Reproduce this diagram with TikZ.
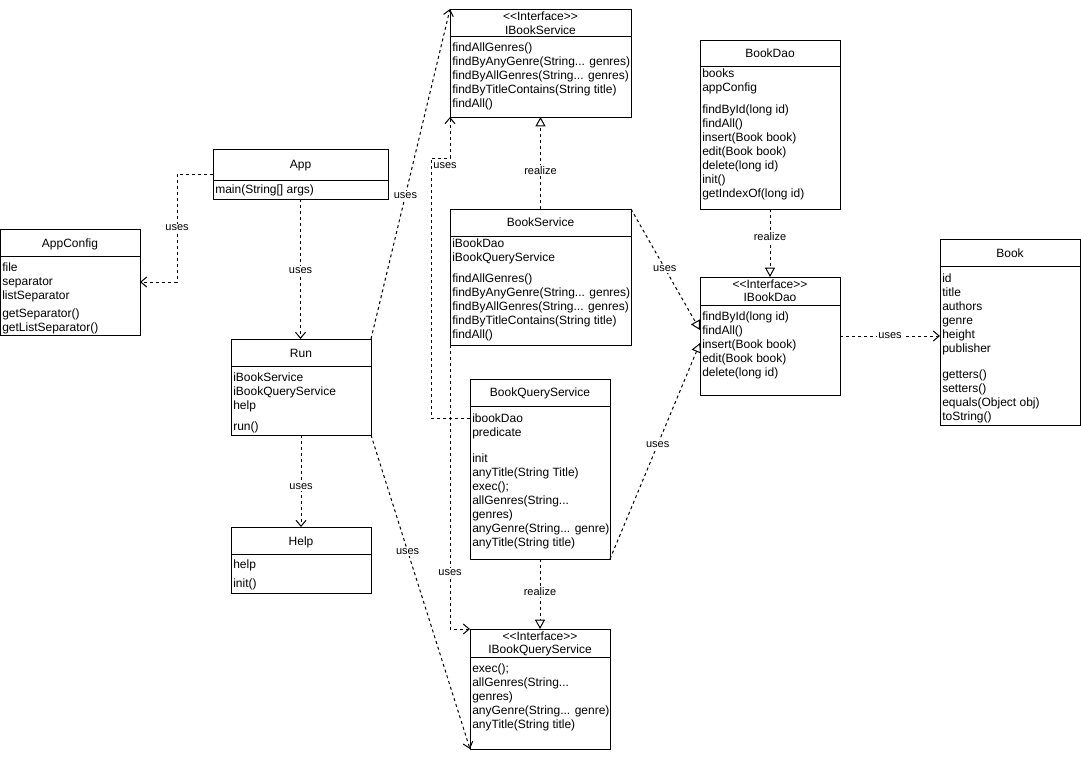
\documentclass[tikz,border=0pt]{standalone}
\usepackage{fontspec}
\newfontfamily\uf{Liberation Sans}
\usetikzlibrary{arrows.meta,calc}
\newcommand\R{\rule{0pt}{7pt}}
\newcommand\ubox[5]{\node[box, minimum width={#4*0.75pt}, minimum height={#5*0.75pt}] (#1) at (#2,#3) {};}
\newcommand\udiv[3]{\draw[divline] (#1,#2) -- ++(#3,0);}
\tikzset{
 box/.style={draw, line width=0.75pt, fill=white, anchor=north west, inner sep=0pt, outer sep=0pt},
 hd/.style={font=\uf\fontsize{9}{10.5}\selectfont, inner sep=0pt, anchor=base},
 mem/.style={font=\uf\fontsize{9}{10.5}\selectfont, inner sep=0pt, anchor=north west, align=left},
 divline/.style={line width=0.75pt},
 dep/.style={line width=0.75pt, dash pattern=on 2.25pt off 2.25pt, -{Straight Barb[length=4.5pt,width=7.5pt]}},
 real/.style={line width=0.75pt, dash pattern=on 2.25pt off 2.25pt, -{Triangle[open,length=7pt,width=7.5pt]}},
 lab/.style={font=\uf\fontsize{8.25}{9}\selectfont, fill=white, inner sep=1pt},
}
\begin{document}
\begin{tikzpicture}[x=0.75pt,y=-0.75pt]
\useasboundingbox (0,0) rectangle (1081,760);

% ---------- boxes ----------
\ubox{ibs}{450}{9}{181}{108}
\ubox{bd}{700}{40}{140}{169}
\ubox{app}{213}{149}{175}{50}
\ubox{ac}{0.5}{229}{139.5}{106}
\ubox{bs}{450}{209}{181}{136}
\ubox{ibd}{700}{277}{140}{118}
\ubox{book}{940}{239}{140}{186}
\ubox{run}{231}{339}{140}{96}
\ubox{help}{231}{527}{140}{66}
\ubox{bqs}{470}{379}{140}{180}
\ubox{ibqs}{470}{629}{140}{120}

% ---------- dividers ----------
\udiv{450}{36}{181}
\udiv{700}{66}{140}
\udiv{213}{180}{175}
\udiv{0.5}{256}{139.5}
\udiv{450}{236}{181}
\udiv{700}{305}{140}
\udiv{940}{266}{140}
\udiv{231}{366}{140}
\udiv{231}{554}{140}
\udiv{470}{406}{140}
\udiv{470}{657}{140}

% ---------- headers ----------
\node[hd] (ibs-s) at (540.5,20.3) {<\kern0pt<Interface>\kern0pt>};
\node[hd] (ibs-t) at (540.5,34.3) {IBookService};
\node[hd] (bd-t) at (770,57.3) {BookDao};
\node[hd] (app-t) at (300.5,168.3) {App};
\node[hd] (ac-t) at (70,247.3) {AppConfig};
\node[hd] (bs-t) at (540.5,226.3) {BookService};
\node[hd] (ibd-s) at (770,288.3) {<\kern0pt<Interface>\kern0pt>};
\node[hd] (ibd-t) at (770,301.3) {IBookDao};
\node[hd] (book-t) at (1010,257.3) {Book};
\node[hd] (run-t) at (301,357.3) {Run};
\node[hd] (help-t) at (301,545.3) {Help};
\node[hd] (bqs-t) at (540,396.3) {BookQueryService};
\node[hd] (ibqs-s) at (540,640.3) {<\kern0pt<Interface>\kern0pt>};
\node[hd] (ibqs-t) at (540,653.3) {IBookQueryService};

% ---------- members ----------
\node[mem] (ibs-m) at (452,42) {\R findAllGenres()\\findByAnyGenre(String... genres)\\findByAllGenres(String... genres)\\findByTitleContains(String title)\\findAll()};
\node[mem] (bd-f) at (702,68) {\R books\\appConfig};
\node[mem] (bd-m) at (702,104) {\R findById(long id)\\findAll()\\insert(Book book)\\edit(Book book)\\delete(long id)\\init()\\getIndexOf(long id)};
\node[mem] (app-m) at (215,184) {\R main(String[] args)};
\node[mem] (ac-f) at (2,262) {\R file\\separator\\listSeparator};
\node[mem] (ac-m) at (2,308) {\R getSeparator()\\getListSeparator()};
\node[mem] (bs-f) at (452,238) {\R iBookDao\\iBookQueryService};
\node[mem] (bs-m) at (452,273) {\R findAllGenres()\\findByAnyGenre(String... genres)\\findByAllGenres(String... genres)\\findByTitleContains(String title)\\findAll()};
\node[mem] (ibd-m) at (702,311) {\R findById(long id)\\findAll()\\insert(Book book)\\edit(Book book)\\delete(long id)};
\node[mem] (book-f) at (942,273) {\R id\\title\\authors\\genre\\height\\publisher};
\node[mem] (book-m) at (942,369) {\R getters()\\setters()\\equals(Object obj)\\toString()};
\node[mem] (run-f) at (233,372) {\R iBookService\\iBookQueryService\\help};
\node[mem] (run-m) at (233,421) {\R run()};
\node[mem] (help-f) at (233,559) {\R help};
\node[mem] (help-m) at (233,578) {\R init()};
\node[mem] (bqs-f) at (472,413) {\R ibookDao\\predicate};
\node[mem] (bqs-m) at (472,453) {\R init\\anyTitle(String Title)\\exec();\\allGenres(String...\\genres)\\anyGenre(String... genre)\\anyTitle(String title)};
\node[mem] (ibqs-m) at (472,663) {\R exec();\\allGenres(String...\\genres)\\anyGenre(String... genre)\\anyTitle(String title)};

% ---------- helper coordinates ----------
\coordinate (bqsdao) at ($(bqs.north west)+(0,39)$);
\coordinate (ibdin1) at ($(ibd.north west)+(0,53)$);
\coordinate (ibdin2) at ($(ibd.north west)+(0,66)$);

% ---------- connectors ----------
\draw[dep] (app.west) -- ++(-36,0) |- node[lab,pos=0.25] {uses} (ac.east);
\draw[dep] (app.south) -- node[lab,pos=0.51] {uses} (app.south |- run.north);
\draw[dep] (run.north east) -- node[lab,pos=0.436] {uses} (ibs.north west);
\draw[dep] (run.south) -- node[lab,pos=0.56] {uses} (help.north);
\draw[dep] (run.south east) -- node[lab,pos=0.37] {uses} (ibqs.south west);
\draw[dep] (bqsdao) -- ++(-39,0) -- ++(0,-260) -| (ibs.south west);
\node[lab] (lbl-bqs-ibs) at (445,166) {uses};
\draw[dep] (bs.south west) |- node[lab,pos=0.40] {uses} (ibqs.north west);
\draw[real] (bs.north) -- node[lab,pos=0.42] {realize} (ibs.south);
\draw[real] (bd.south) -- node[lab,pos=0.4] {realize} (ibd.north);
\draw[real] (bs.north east) -- node[lab,pos=0.49] {uses} (ibdin1);
\draw[real] (bqs.south east) -- node[lab,pos=0.53] {uses} (ibdin2);
\draw[real] (bqs.south) -- node[lab,pos=0.46] {realize} (ibqs.north);
\draw[dep] (ibd.east) -- node[lab] {uses} (ibd.east -| book.west);
\end{tikzpicture}
\end{document}
